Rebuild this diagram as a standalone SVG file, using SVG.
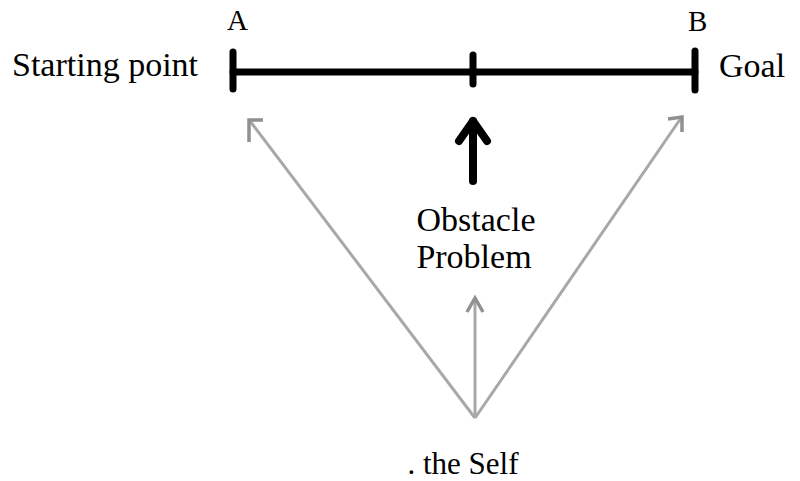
<svg xmlns="http://www.w3.org/2000/svg" width="800" height="481" viewBox="0 0 800 481">
<style>
text{font-family:"Liberation Serif","Times New Roman",serif;fill:#000}
.lbl{font-size:34px}
.let{font-size:29px}
.bar{stroke:#000;stroke-width:7;stroke-linecap:round;fill:none}
.blk{stroke:#000;stroke-width:8;stroke-linecap:round;stroke-linejoin:round;fill:none}
.gry{stroke:#a8a8a8;stroke-width:3;fill:none}
.ghd{stroke:#909090;stroke-width:3.5;fill:none;stroke-linejoin:miter}
</style>
<rect width="800" height="481" fill="#fff"/>
<g id="timeline">
<line class="bar" x1="233" y1="72" x2="695" y2="72"/>
<line class="bar" x1="233" y1="52" x2="233" y2="89"/>
<line class="bar" x1="473" y1="55" x2="473" y2="84"/>
<line class="bar" x1="695" y1="51" x2="695" y2="90"/>
</g>
<g id="start"><text class="lbl" x="12" y="76">Starting point</text></g>
<g id="goal"><text class="lbl" x="719" y="77">Goal</text></g>
<g id="labelA"><text class="let" x="227" y="30">A</text></g>
<g id="labelB"><text class="let" x="688" y="31">B</text></g>
<g id="obstacle"><text class="lbl" x="476" y="231" text-anchor="middle">Obstacle</text><text class="lbl" x="474" y="268" text-anchor="middle">Problem</text></g>
<g id="self"><text class="lbl" x="463" y="474" text-anchor="middle" style="font-size:31px">. the Self</text></g>
<g id="connectors">
<line class="blk" x1="473" y1="181" x2="473" y2="121"/>
<polyline class="blk" points="459,141 473,121 487,141"/>
<line class="gry" x1="475" y1="418" x2="250" y2="121"/>
<polyline class="ghd" points="263,120 249,120 249,142"/>
<line class="gry" x1="475" y1="418" x2="475" y2="298"/>
<polyline class="ghd" points="467,312 475,298 483,312"/>
<line class="gry" x1="475" y1="418" x2="681" y2="118"/>
<polyline class="ghd" points="668,119 682,117 682,132"/>
</g>
</svg>
